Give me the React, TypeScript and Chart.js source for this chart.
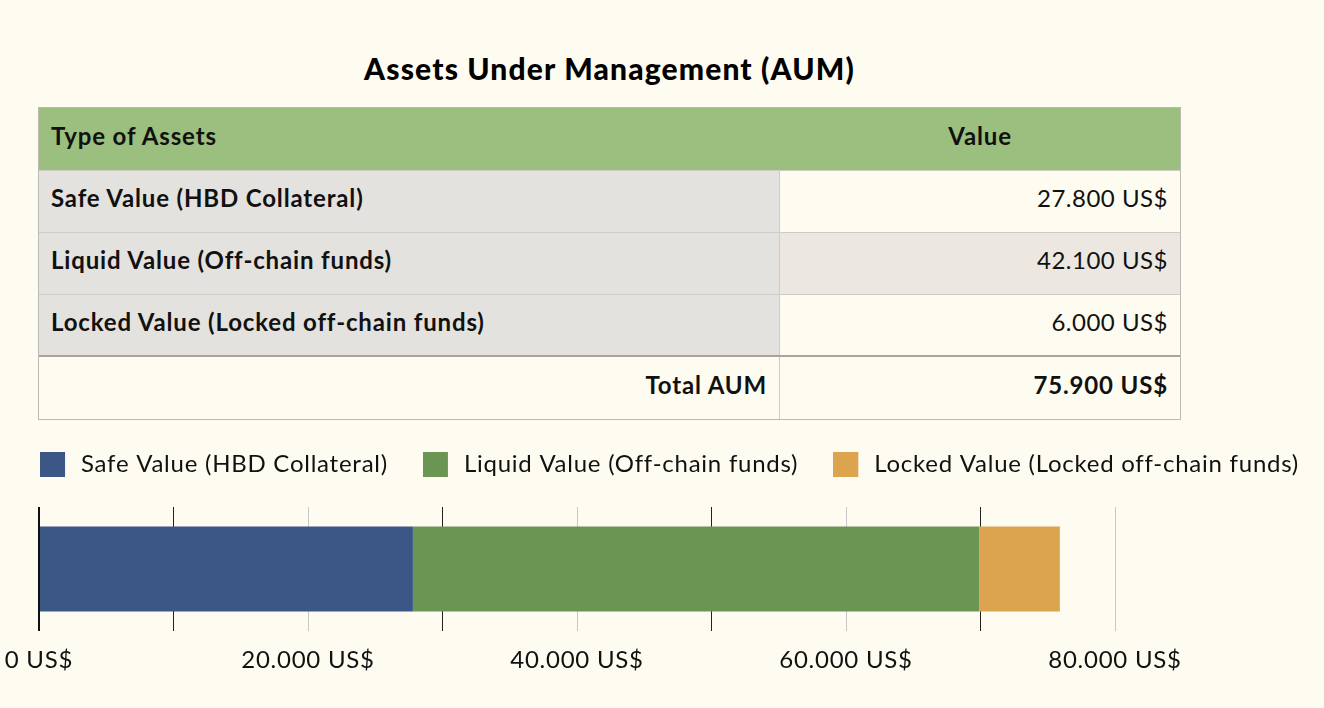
import React, { useEffect, useRef } from "react";
import { Chart, registerables } from "chart.js";

Chart.register(...registerables);

const TITLE = "Assets Under Management (AUM)";
const HEADER_TYPE = "Type of Assets";
const HEADER_VALUE = "Value";
const TOTAL_LABEL = "Total AUM";
const CURRENCY = "US$";

const categories = [
  "Safe Value (HBD Collateral)",
  "Liquid Value (Off-chain funds)",
  "Locked Value (Locked off-chain funds)",
];
const values = [27800, 42100, 6000];
const seriesColors = ["#3a5785", "#6a9552", "#dda450"];
const axisMin = 0;
const axisMax = 80000;
const tickStep = 10000;
const labelStep = 20000;

const BG = "#fefbf0";
const FONT = "Lato, 'Noto Sans', sans-serif";
const CANVAS_LETTER_SPACING = "0.75px";

const fmt = (v: number) =>
  String(Math.round(v)).replace(/\B(?=(\d{3})+(?!\d))/g, ".") + " " + CURRENCY;

const CANVAS_W = 1339;
const CANVAS_H = 291;
const CANVAS_TOP = 417;
const PLOT_LEFT = 39;
const PLOT_RIGHT = 1115;
const SWATCH = 25;
const SWATCH_SLOT = 29;

const spacingPlugin = {
  id: "letterSpacing",
  beforeUpdate(chart: any) {
    chart.ctx.letterSpacing = CANVAS_LETTER_SPACING;
  },
  beforeDraw(chart: any) {
    chart.ctx.letterSpacing = CANVAS_LETTER_SPACING;
  },
};

function makeSwatch(color: string) {
  const c = document.createElement("canvas");
  c.width = SWATCH_SLOT;
  c.height = SWATCH + 1;
  const g = c.getContext("2d")!;
  g.fillStyle = color;
  g.fillRect(0, 1, SWATCH, SWATCH);
  return c;
}

function BarChart() {
  const ref = useRef<HTMLCanvasElement | null>(null);
  useEffect(() => {
    if (!ref.current) return;
    const chart = new Chart(ref.current, {
      type: "bar",
      plugins: [spacingPlugin],
      data: {
        labels: ["AUM"],
        datasets: categories.map((c, i) => ({
          label: c,
          data: [values[i]],
          xAxisID: "x",
          yAxisID: "y",
          backgroundColor: seriesColors[i],
          borderWidth: 0,
          barPercentage: 0.685,
          categoryPercentage: 1,
          pointStyle: makeSwatch(seriesColors[i]),
        })),
      },
      options: {
        animation: false,
        responsive: false,
        indexAxis: "y",
        layout: { padding: 0 },
        plugins: {
          tooltip: { enabled: false },
          legend: {
            position: "top",
            align: "center",
            labels: {
              usePointStyle: true,
              pointStyleWidth: SWATCH_SLOT,
              boxHeight: SWATCH,
              padding: 35,
              color: "#111",
              font: { family: FONT, size: 24 },
            },
          },
        },
        scales: {
          x: {
            type: "linear",
            stacked: true,
            min: axisMin,
            max: axisMax,
            border: { display: false },
            grid: {
              drawTicks: false,
              color: (ctx: any) =>
                ctx.index === 0
                  ? "#111"
                  : ctx.tick && ctx.tick.value % labelStep === 0
                  ? "#c8c8c8"
                  : "#222",
              lineWidth: (ctx: any) => (ctx.index === 0 ? 2 : 1),
            },
            ticks: {
              stepSize: tickStep,
              autoSkip: false,
              maxRotation: 0,
              padding: 15,
              color: "#111",
              font: { family: FONT, size: 24 },
              callback: (v: any) => (Number(v) % labelStep === 0 ? fmt(Number(v)) : ""),
            },
            afterFit: (scale: any) => {
              scale.paddingLeft = PLOT_LEFT;
              scale.paddingRight = CANVAS_W - PLOT_RIGHT;
              scale.height = 77;
            },
          },
          y: {
            stacked: true,
            display: false,
          },
          spacer: {
            type: "linear",
            axis: "x",
            position: "top",
            display: true,
            min: 0,
            max: 1,
            grid: { display: false, drawTicks: false },
            border: { display: false },
            ticks: { display: false },
            afterFit: (scale: any) => {
              scale.height = 21;
              scale.paddingLeft = 0;
              scale.paddingRight = 0;
            },
          },
        },
      } as any,
    });
    return () => chart.destroy();
  }, []);
  return (
    <canvas
      ref={ref}
      width={CANVAS_W}
      height={CANVAS_H}
      style={{ position: "absolute", left: 0, top: CANVAS_TOP, width: CANVAS_W, height: CANVAS_H }}
    />
  );
}

const cellBase: React.CSSProperties = {
  display: "flex",
  alignItems: "center",
  boxSizing: "border-box",
  paddingLeft: 12,
  paddingRight: 12,
  paddingBottom: 7,
  fontSize: 24,
  color: "#111",
  lineHeight: "28px",
  whiteSpace: "nowrap",
};
const boldCell: React.CSSProperties = { fontWeight: 700, letterSpacing: "0.85px" };
const regCell: React.CSSProperties = { fontWeight: 400, letterSpacing: "0.5px" };

function AumTable() {
  const total = values.reduce((a, b) => a + b, 0);
  const rowHeights = [61, 61, 60];
  const rowValueBg = [BG, "#ece8e1", BG];
  return (
    <div
      style={{
        position: "absolute",
        left: 38,
        top: 107,
        width: 1143,
        boxSizing: "border-box",
        border: "1px solid #bdbab3",
        fontFamily: FONT,
      }}
    >
      <div style={{ display: "flex", height: 62, background: "#9bbf7e" }}>
        <div style={{ ...cellBase, ...boldCell, width: 741 }}>{HEADER_TYPE}</div>
        <div style={{ ...cellBase, ...boldCell, flex: 1, justifyContent: "center" }}>{HEADER_VALUE}</div>
      </div>
      {categories.map((c, i) => (
        <div
          key={c}
          style={{ display: "flex", height: rowHeights[i] + 1, borderTop: "1px solid #cfccc6", boxSizing: "border-box" }}
        >
          <div
            style={{
              ...cellBase,
              ...boldCell,
              width: 741,
              background: "#e4e2de",
              borderRight: "1px solid #cfccc6",
            }}
          >
            {c}
          </div>
          <div style={{ ...cellBase, ...regCell, flex: 1, justifyContent: "flex-end", background: rowValueBg[i] }}>
            {fmt(values[i])}
          </div>
        </div>
      ))}
      <div style={{ display: "flex", height: 64, borderTop: "2px solid #a9a59d", boxSizing: "border-box" }}>
        <div
          style={{
            ...cellBase,
            ...boldCell,
            width: 741,
            justifyContent: "flex-end",
            borderRight: "1px solid #cfccc6",
          }}
        >
          {TOTAL_LABEL}
        </div>
        <div style={{ ...cellBase, ...boldCell, flex: 1, justifyContent: "flex-end" }}>{fmt(total)}</div>
      </div>
    </div>
  );
}

export default function App() {
  return (
    <div
      style={{
        position: "fixed",
        left: 0,
        top: 0,
        width: 1324,
        height: 708,
        overflow: "hidden",
        background: BG,
        fontFamily: FONT,
      }}
    >
      <div
        style={{
          position: "absolute",
          left: 38,
          top: 50,
          width: 1143,
          textAlign: "center",
          fontSize: 30,
          lineHeight: "36px",
          fontWeight: 900,
          letterSpacing: "1.15px",
          color: "#000",
        }}
      >
        {TITLE}
      </div>
      <AumTable />
      <BarChart />
    </div>
  );
}
